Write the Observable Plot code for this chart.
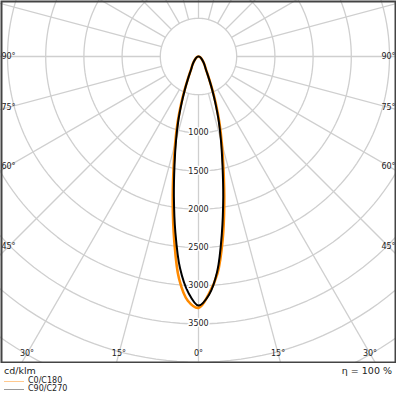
<!DOCTYPE html>
<html>
<head>
<meta charset="utf-8">
<script src="https://cdn.jsdelivr.net/npm/d3@7"></script>
<script src="https://cdn.jsdelivr.net/npm/@observablehq/plot@0.6"></script>
<style>
  html, body { margin: 0; padding: 0; background: #fff; }
  #wrap { position: relative; width: 396px; height: 396px; font-family: "DejaVu Sans", sans-serif; color: #222; overflow: hidden; }
  #chart { position: absolute; left: 0; top: 0; }
  .ft { position: absolute; white-space: nowrap; line-height: 1; }
  .sw { position: absolute; height: 0; width: 20px; }
</style>
</head>
<body>
<div id="wrap">
  <div id="chart"></div>
  <div class="ft" id="unit" style="left:4px; top:366px; font-size:9.5px;"></div>
  <div class="ft" id="eta" style="right:4px; top:366px; font-size:9.5px;"></div>
  <div class="sw" style="left:4px; top:381px; border-top:1px solid #ffc98f;"></div>
  <div class="ft" id="lg0" style="left:28px; top:377px; font-size:8px;"></div>
  <div class="sw" style="left:4px; top:389px; border-top:1px solid #9a9a9a;"></div>
  <div class="ft" id="lg1" style="left:28px; top:385px; font-size:8px;"></div>
</div>
<script>
// ---- data ----
const gammaAngles = [0, 2.5, 5, 7.5, 10, 12.5, 15, 17.5, 20, 22.5, 25, 27.5, 30, 35, 40, 45, 50, 60, 70, 80, 90];
const c0Values   = [3290, 3110, 2850, 2420, 1940, 1510, 1180, 910, 670, 480, 340, 250, 195, 142, 106, 79, 58, 35, 20, 10, 0];
const c180Values = [3290, 3200, 2920, 2430, 1940, 1510, 1180, 910, 670, 480, 340, 250, 195, 142, 106, 79, 58, 35, 20, 10, 0];
const c90Values  = [3260, 3125, 2820, 2340, 1865, 1450, 1135, 877, 642, 463, 330, 245, 190, 140, 105, 78, 58, 35, 20, 10, 0];
const c270Values = [3260, 3090, 2780, 2320, 1855, 1450, 1135, 877, 642, 463, 330, 245, 190, 140, 105, 78, 58, 35, 20, 10, 0];
const seriesNames = ["C0/C180", "C90/C270"];
const ringValues = [500, 1000, 1500, 2000, 2500, 3000, 3500, 4000, 4500, 5000, 5500];
const ringLabels = [1000, 1500, 2000, 2500, 3000, 3500];
const spokeAngles = d3.range(0, 360, 15);
const sideLabelAngles = [90, 75, 60, 45];
const bottomLabelAngles = [30, 15, 0];
const unitText = "cd/klm";
const etaText = "η = 100 %";

// ---- geometry (px per cd/klm, centre) ----
const W = 396, H = 363, cx = 198, cy = 56, k = 0.0764;
const rad = d => d * Math.PI / 180;
const P = (v, a) => ({x: v * Math.sin(rad(a)), y: -v * Math.cos(rad(a))});

const ringPts = [];
for (const v of ringValues) for (let a = 0; a <= 360; a += 2) ringPts.push({ring: v, ...P(v, a)});
const spokes = spokeAngles.map(a => ({a, p1: P(500, a), p2: P(9000, a)}));

function curve(leftVals, rightVals, name) {
  const pts = [];
  for (let i = gammaAngles.length - 1; i >= 0; i--) pts.push({name, ...P(leftVals[i], -gammaAngles[i])});
  for (let i = 1; i < gammaAngles.length; i++) pts.push({name, ...P(rightVals[i], gammaAngles[i])});
  return pts;
}
const orange = curve(c180Values, c0Values, seriesNames[0]);
const black = curve(c270Values, c90Values, seriesNames[1]);

const sideOff = 190 / k;
const sideLabels = [];
for (const a of sideLabelAngles) {
  const y = a === 90 ? 0 : -sideOff / Math.tan(rad(a));
  sideLabels.push({x: -sideOff, y, t: a + "°"});
  sideLabels.push({x: sideOff, y, t: a + "°"});
}
const botOff = 297 / k;
const bottomLabels = [];
for (const a of bottomLabelAngles) {
  const dx = botOff * Math.tan(rad(a));
  bottomLabels.push({x: -dx, y: -botOff, t: a + "°"});
  if (a !== 0) bottomLabels.push({x: dx, y: -botOff, t: a + "°"});
}

const plot = Plot.plot({
  width: W, height: H, margin: 0,
  style: {fontFamily: "DejaVu Sans, sans-serif", background: "white"},
  x: {domain: [-cx / k, (W - cx) / k], axis: null},
  y: {domain: [-(H - cy) / k, cy / k], axis: null},
  marks: [
    Plot.line(ringPts, {x: "x", y: "y", z: "ring", stroke: "#cfcfcf", strokeWidth: 1.3, clip: "frame"}),
    Plot.link(spokes, {x1: d => d.p1.x, y1: d => d.p1.y, x2: d => d.p2.x, y2: d => d.p2.y, stroke: "#cfcfcf", strokeWidth: 1.3, clip: "frame"}),
    Plot.line(orange, {x: "x", y: "y", stroke: "#ff8a00", strokeWidth: 2.6, curve: "catmull-rom", clip: "frame"}),
    Plot.line(black, {x: "x", y: "y", stroke: "#000", strokeWidth: 2, curve: "catmull-rom", clip: "frame"}),
    Plot.text(ringLabels, {x: 0, y: d => -d, text: d => String(d), fontSize: 8, fill: "#222", stroke: "white", strokeWidth: 3}),
    Plot.text(sideLabels, {x: "x", y: "y", text: "t", fontSize: 8, fill: "#222"}),
    Plot.text(bottomLabels, {x: "x", y: "y", text: "t", fontSize: 8, fill: "#222"}),
    Plot.frame({stroke: "#444", strokeWidth: 2, inset: 1})
  ]
});
document.getElementById("chart").appendChild(plot);
document.getElementById("unit").textContent = unitText;
document.getElementById("eta").textContent = etaText;
document.getElementById("lg0").textContent = seriesNames[0];
document.getElementById("lg1").textContent = seriesNames[1];
</script>
</body>
</html>
